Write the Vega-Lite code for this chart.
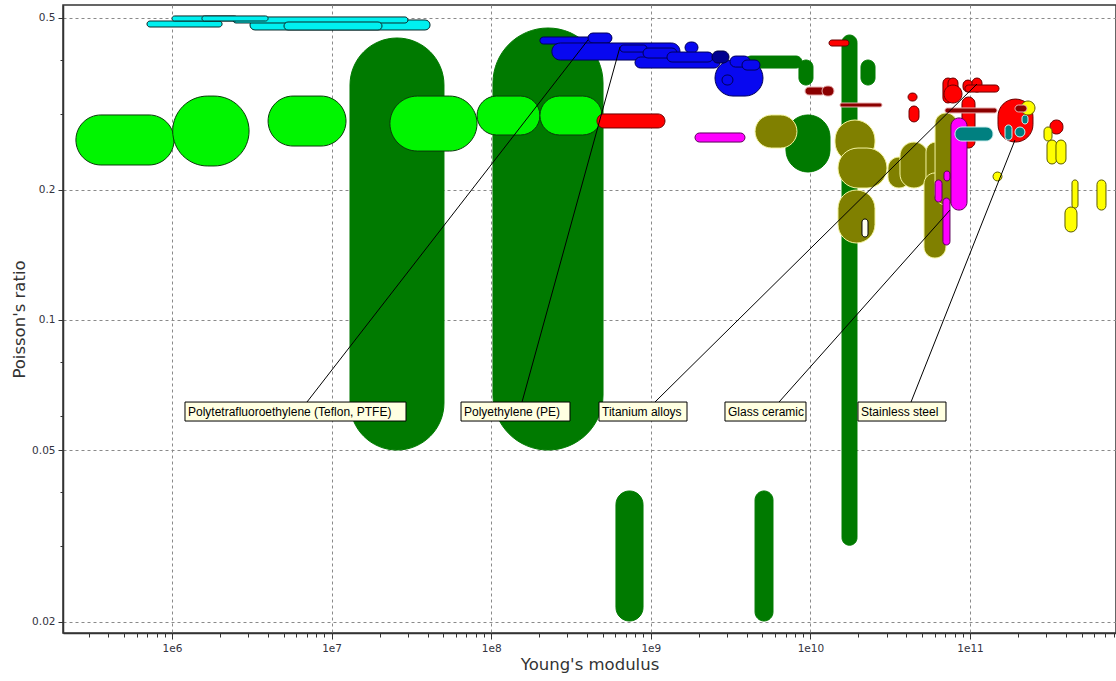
{
  "$schema": "https://vega.github.io/schema/vega-lite/v6.json",
  "width": 1053,
  "height": 628,
  "autosize": {"type": "none"},
  "padding": {"left": 63, "top": 5, "right": 0, "bottom": 48},
  "background": "white",
  "config": {"view": {"stroke": "#333333", "strokeWidth": 1.5}},
  "datasets": {
    "shapes": [
      {"f":"dg","e1":1.304e7,"e2":5.06e7,"n1":0.05,"n2":0.4494},
      {"f":"dg","e1":1.026e8,"e2":5.02e8,"n1":0.05,"n2":0.474},
      {"f":"dg","e1":6.05e8,"e2":8.94e8,"n1":0.0201,"n2":0.0402},
      {"f":"dg","e1":4.5e9,"e2":5.83e9,"n1":0.0201,"n2":0.0402},
      {"f":"dg","e1":1.578e10,"e2":1.959e10,"n1":0.0301,"n2":0.4566},
      {"f":"dg","e1":3.89e9,"e2":8.86e9,"n1":0.3829,"n2":0.4082},
      {"f":"dg","e1":8.48e9,"e2":1.038e10,"n1":0.3498,"n2":0.3996},
      {"f":"dg","e1":2.075e10,"e2":2.54e10,"n1":0.3498,"n2":0.3996},
      {"f":"dg","e1":7.03e9,"e2":1.327e10,"n1":0.22,"n2":0.2982},
      {"f":"lg","e1":2.5e5,"e2":1.03e6,"n1":0.2284,"n2":0.2982},
      {"f":"lg","e1":1.01e6,"e2":3.04e6,"n1":0.2272,"n2":0.3298},
      {"f":"lg","e1":4.0e6,"e2":1.231e7,"n1":0.2527,"n2":0.3298},
      {"f":"lg","e1":2.32e7,"e2":8.15e7,"n1":0.246,"n2":0.3298},
      {"f":"lg","e1":8.15e7,"e2":2.02e8,"n1":0.268,"n2":0.3298},
      {"f":"lg","e1":2.02e8,"e2":4.95e8,"n1":0.268,"n2":0.3298},
      {"f":"cy","e1":3.08e6,"e2":4.14e7,"n1":0.469,"n2":0.4947},
      {"f":"cy","e1":2.41e6,"e2":3.01e7,"n1":0.4868,"n2":0.5027},
      {"f":"cy","e1":6.97e5,"e2":2.06e6,"n1":0.4765,"n2":0.492},
      {"f":"cy","e1":1.0e6,"e2":2.56e6,"n1":0.492,"n2":0.5054},
      {"f":"cy","e1":1.54e6,"e2":4.0e6,"n1":0.492,"n2":0.5054},
      {"f":"cy","e1":5.03e6,"e2":2.07e7,"n1":0.469,"n2":0.4894},
      {"f":"bl","e1":2.525e9,"e2":5.047e9,"n1":0.3298,"n2":0.3996},
      {"f":"bl","e1":2.02e8,"e2":5.55e8,"n1":0.4352,"n2":0.4518},
      {"f":"bl","e1":4.04e8,"e2":5.71e8,"n1":0.4376,"n2":0.4615},
      {"f":"bl","e1":2.4e8,"e2":1.524e9,"n1":0.3996,"n2":0.4376},
      {"f":"bl","e1":6.41e8,"e2":9.47e8,"n1":0.417,"n2":0.4329},
      {"f":"bl","e1":7.96e8,"e2":2.71e9,"n1":0.3829,"n2":0.4061},
      {"f":"bl","e1":8.94e8,"e2":1.459e9,"n1":0.4039,"n2":0.426},
      {"f":"bl","e1":1.638e9,"e2":1.976e9,"n1":0.4148,"n2":0.4399},
      {"f":"bl","e1":1.263e9,"e2":2.453e9,"n1":0.3954,"n2":0.417},
      {"f":"bd","e1":2.418e9,"e2":3.09e9,"n1":0.3933,"n2":0.4193},
      {"f":"bl","e1":3.135e9,"e2":4.183e9,"n1":0.3849,"n2":0.4082},
      {"f":"bl","e1":2.793e9,"e2":3.273e9,"n1":0.3498,"n2":0.369},
      {"f":"bl","e1":3.727e9,"e2":4.833e9,"n1":0.3788,"n2":0.3996},
      {"f":"ol","e1":4.5e9,"e2":8.24e9,"n1":0.25,"n2":0.2982},
      {"f":"ol","e1":1.426e10,"e2":2.54e10,"n1":0.232,"n2":0.2903},
      {"f":"ol","e1":1.489e10,"e2":3.019e10,"n1":0.202,"n2":0.25},
      {"f":"ol","e1":1.489e10,"e2":2.54e10,"n1":0.1507,"n2":0.1999},
      {"f":"ol","e1":3.063e10,"e2":4.208e10,"n1":0.202,"n2":0.2383},
      {"f":"ol","e1":3.642e10,"e2":5.455e10,"n1":0.202,"n2":0.2581},
      {"f":"ol","e1":5.3e10,"e2":7.07e10,"n1":0.1452,"n2":0.2581},
      {"f":"ol","e1":5.15e10,"e2":7.07e10,"n1":0.1391,"n2":0.2189},
      {"f":"ol","e1":6.04e10,"e2":8.29e10,"n1":0.1845,"n2":0.3014},
      {"f":"rd","e1":4.6e8,"e2":1.227e9,"n1":0.2782,"n2":0.2998},
      {"f":"rd","e1":1.308e10,"e2":1.745e10,"n1":0.4306,"n2":0.4446},
      {"f":"rd","e1":4.09e10,"e2":4.66e10,"n1":0.3212,"n2":0.3351},
      {"f":"rd","e1":4.15e10,"e2":4.79e10,"n1":0.2873,"n2":0.3128},
      {"f":"rd","e1":8.91e10,"e2":1.075e11,"n1":0.25,"n2":0.3281},
      {"f":"rd","e1":6.77e10,"e2":7.83e10,"n1":0.3178,"n2":0.3631},
      {"f":"rd","e1":7.28e10,"e2":8.41e10,"n1":0.3229,"n2":0.3631},
      {"f":"rd","e1":6.87e10,"e2":8.91e10,"n1":0.3178,"n2":0.3498},
      {"f":"rd","e1":9.04e10,"e2":1.044e11,"n1":0.3369,"n2":0.3592},
      {"f":"rd","e1":1.029e11,"e2":1.189e11,"n1":0.3369,"n2":0.3631},
      {"f":"rd","e1":9.3e10,"e2":1.52e11,"n1":0.3369,"n2":0.3498},
      {"f":"rd","e1":1.498e11,"e2":2.481e11,"n1":0.2581,"n2":0.3246},
      {"f":"rd","e1":3.17e11,"e2":3.825e11,"n1":0.2694,"n2":0.2903},
      {"f":"dr","e1":9.25e9,"e2":1.234e10,"n1":0.3316,"n2":0.346},
      {"f":"dr","e1":1.182e10,"e2":1.406e10,"n1":0.3298,"n2":0.3479},
      {"f":"dr","e1":1.533e10,"e2":2.809e10,"n1":0.3111,"n2":0.3178},
      {"f":"dr","e1":6.97e10,"e2":1.476e11,"n1":0.3014,"n2":0.3095},
      {"f":"mg","e1":1.892e9,"e2":3.892e9,"n1":0.2581,"n2":0.2709},
      {"f":"mg","e1":7.6e10,"e2":9.58e10,"n1":0.1796,"n2":0.2935},
      {"f":"mg","e1":6.87e10,"e2":7.49e10,"n1":0.2098,"n2":0.2212},
      {"f":"mg","e1":6.04e10,"e2":6.68e10,"n1":0.1875,"n2":0.2109},
      {"f":"mg","e1":6.77e10,"e2":7.49e10,"n1":0.1491,"n2":0.1915},
      {"f":"tl","e1":8.05e10,"e2":1.394e11,"n1":0.2595,"n2":0.2797},
      {"f":"tl","e1":2.118e11,"e2":2.309e11,"n1":0.2842,"n2":0.2982},
      {"f":"tl","e1":1.657e11,"e2":1.833e11,"n1":0.2609,"n2":0.2827},
      {"f":"tl","e1":1.914e11,"e2":2.211e11,"n1":0.2651,"n2":0.2797},
      {"f":"yl","e1":2.087e11,"e2":2.554e11,"n1":0.2982,"n2":0.3212},
      {"f":"dr","e1":1.914e11,"e2":2.276e11,"n1":0.303,"n2":0.3144},
      {"f":"yl","e1":2.91e11,"e2":3.265e11,"n1":0.2595,"n2":0.2797},
      {"f":"yl","e1":3.038e11,"e2":3.509e11,"n1":0.2296,"n2":0.2609},
      {"f":"yl","e1":3.458e11,"e2":3.994e11,"n1":0.2296,"n2":0.2609},
      {"f":"yl","e1":1.394e11,"e2":1.587e11,"n1":0.2098,"n2":0.22},
      {"f":"yl","e1":4.356e11,"e2":4.751e11,"n1":0.1815,"n2":0.2109},
      {"f":"yl","e1":3.937e11,"e2":4.681e11,"n1":0.1598,"n2":0.1826},
      {"f":"yl","e1":6.247e11,"e2":7.114e11,"n1":0.1796,"n2":0.2109},
      {"f":"wh","e1":2.105e10,"e2":2.296e10,"n1":0.1556,"n2":0.1713}
    ],
    "lines": [
      {"e1":7.01e6,"n1":0.06457,"e2":4.04e8,"n2":0.4446},
      {"e1":1.56e8,"n1":0.06457,"e2":6.41e8,"n2":0.4284},
      {"e1":1.062e9,"n1":0.06457,"e2":1.106e11,"n2":0.3516},
      {"e1":6.36e9,"n1":0.06457,"e2":7.49e10,"n2":0.1796},
      {"e1":4.27e10,"n1":0.06457,"e2":1.914e11,"n2":0.2609}
    ],
    "labels": [
      {"label":"Polytetrafluoroethylene (Teflon, PTFE)","e1":1.206e6,"e2":2.926e7,"n1":0.05836,"n2":0.06457},
      {"label":"Polyethylene (PE)","e1":6.47e7,"e2":3.116e8,"n1":0.05836,"n2":0.06457},
      {"label":"Titanium alloys","e1":4.736e8,"e2":1.686e9,"n1":0.05836,"n2":0.06457},
      {"label":"Glass ceramic","e1":2.916e9,"e2":9.384e9,"n1":0.05836,"n2":0.06457},
      {"label":"Stainless steel","e1":1.987e10,"e2":7.074e10,"n1":0.05836,"n2":0.06457}
    ]
  },
  "encoding": {
    "x": {
      "field": "e1", "type": "quantitative",
      "scale": {"type": "log", "domain": [207500, 822000000000], "nice": false},
      "axis": {
        "title": "Young's modulus",
        "values": [3e5,4e5,5e5,6e5,7e5,8e5,9e5,1e6,2e6,3e6,4e6,5e6,6e6,7e6,8e6,9e6,1e7,2e7,3e7,4e7,5e7,6e7,7e7,8e7,9e7,1e8,2e8,3e8,4e8,5e8,6e8,7e8,8e8,9e8,1e9,2e9,3e9,4e9,5e9,6e9,7e9,8e9,9e9,1e10,2e10,3e10,4e10,5e10,6e10,7e10,8e10,9e10,1e11,2e11,3e11,4e11,5e11,6e11,7e11,8e11],
        "labelExpr": "indexof([1e6,1e7,1e8,1e9,1e10,1e11], datum.value) >= 0 ? '1e' + round(log(datum.value)/LN10) : ''",
        "grid": true,
        "gridDash": [3, 3],
        "gridColor": "#8a8a8a",
        "gridOpacity": {"condition": {"test": "indexof([1e6,1e7,1e8,1e9,1e10,1e11], datum.value) >= 0", "value": 1}, "value": 0},
        "tickSize": {"condition": {"test": "indexof([1e6,1e7,1e8,1e9,1e10,1e11], datum.value) >= 0", "value": 6}, "value": 4},
        "tickColor": "#333333",
        "domainColor": "#333333",
        "domainWidth": 1.5,
        "labelFont": "DejaVu Sans",
        "labelFontSize": 10.5,
        "labelColor": "#333340",
        "labelPadding": 4,
        "labelFlush": false,
        "labelOverlap": false,
        "titleFont": "DejaVu Sans",
        "titleFontSize": 16.5,
        "titleFontWeight": "normal",
        "titleColor": "#333333",
        "titlePadding": 3
      }
    },
    "y": {
      "field": "n1", "type": "quantitative",
      "scale": {"type": "log", "domain": [0.018857, 0.5358], "nice": false},
      "axis": {
        "title": "Poisson's ratio",
        "values": [0.5, 0.4, 0.3, 0.2, 0.1, 0.08, 0.06, 0.05, 0.04, 0.03, 0.02],
        "labelExpr": "indexof([0.5,0.2,0.1,0.05,0.02], datum.value) >= 0 ? '' + datum.value : ''",
        "grid": true,
        "gridDash": [3, 3],
        "gridColor": "#8a8a8a",
        "gridOpacity": {"condition": {"test": "indexof([0.5,0.2,0.1,0.05,0.02], datum.value) >= 0", "value": 1}, "value": 0},
        "tickSize": {"condition": {"test": "indexof([0.5,0.2,0.1,0.05,0.02], datum.value) >= 0", "value": 5}, "value": 3},
        "tickColor": "#333333",
        "domainColor": "#333333",
        "domainWidth": 1.5,
        "labelFont": "DejaVu Sans",
        "labelFontSize": 10.5,
        "labelColor": "#333340",
        "labelPadding": 3,
        "labelOverlap": false,
        "titleFont": "DejaVu Sans",
        "titleFontSize": 16.5,
        "titleFontWeight": "normal",
        "titleColor": "#333333",
        "titlePadding": 4
      }
    }
  },
  "layer": [
    {
      "data": {"name": "shapes"},
      "mark": {"type": "rect", "cornerRadius": 10000, "strokeWidth": 1},
      "encoding": {
        "x2": {"field": "e2"},
        "y2": {"field": "n2"},
        "fill": {"field": "f", "type": "nominal", "legend": null,
          "scale": {"domain": ["dg","lg","cy","bl","bd","ol","rd","dr","mg","tl","yl","wh"],
                    "range": ["#007a00","#00f500","#00f0f0","#0808f0","#00008f","#808000","#ff0000","#8b0000","#ff00ff","#008080","#ffff00","#fffff0"]}},
        "stroke": {"field": "f", "type": "nominal", "legend": null,
          "scale": {"domain": ["dg","lg","cy","bl","bd","ol","rd","dr","mg","tl","yl","wh"],
                    "range": ["#007a00","#0a3a0a","#0a2a2a","#00005a","#000040","#f5f5a0","#6a0000","#e8b0b0","#5a005a","#d0f0f0","#5a5a00","#000000"]}}
      }
    },
    {
      "data": {"name": "lines"},
      "mark": {"type": "rule", "color": "#000000", "strokeWidth": 1},
      "encoding": {"x2": {"field": "e2"}, "y2": {"field": "n2"}}
    },
    {
      "data": {"name": "labels"},
      "mark": {"type": "rect", "fill": "#ffffe1", "stroke": "#000000", "strokeWidth": 1},
      "encoding": {"x2": {"field": "e2"}, "y2": {"field": "n2"}}
    },
    {
      "data": {"name": "labels"},
      "mark": {"type": "text", "align": "left", "baseline": "alphabetic", "dx": 3, "dy": -5, "font": "Liberation Sans", "fontSize": 12, "color": "#000000"},
      "encoding": {"text": {"field": "label"}}
    }
  ]
}
